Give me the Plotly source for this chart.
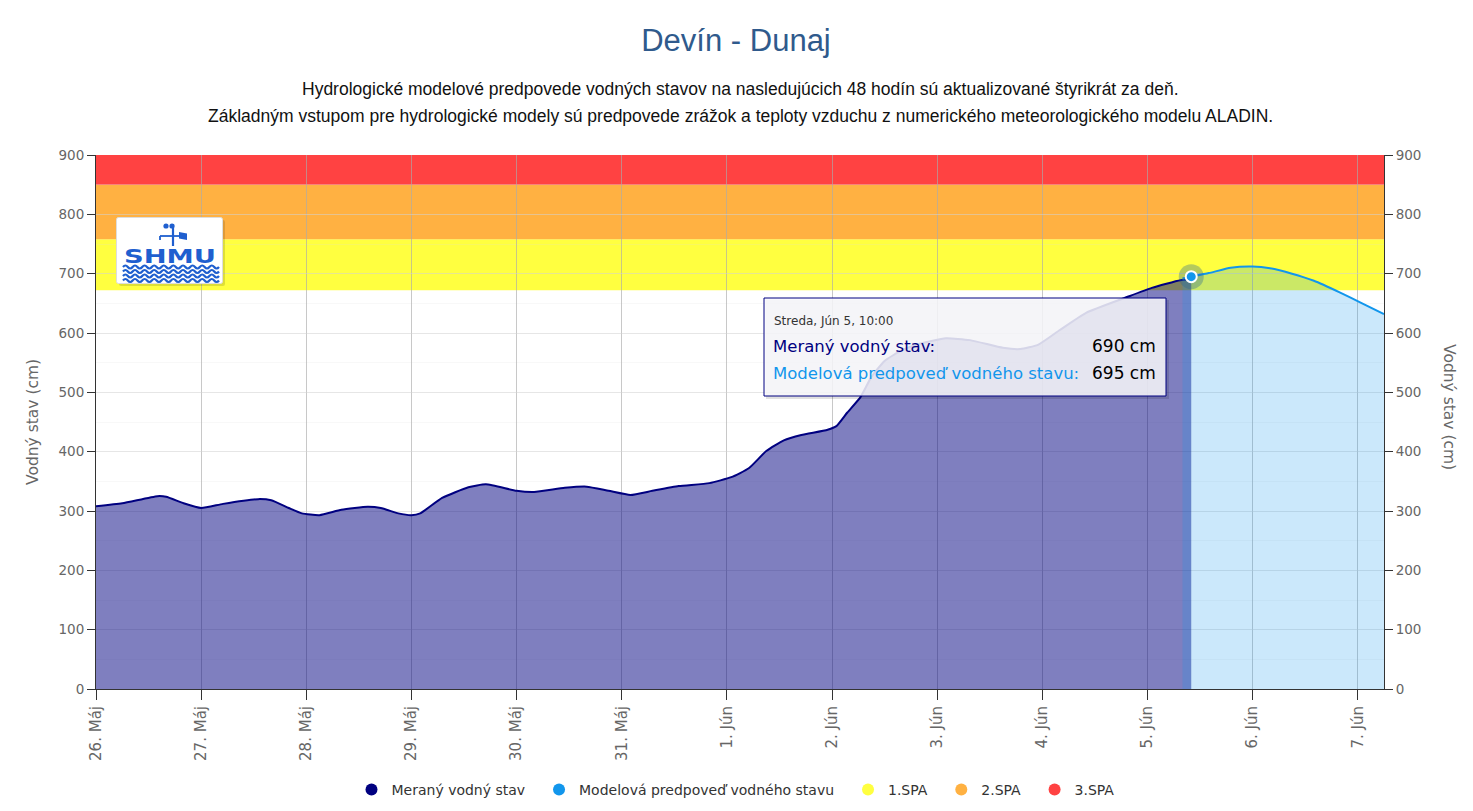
import base64

import plotly.graph_objects as go


# measured water level (cm)
measured_time = [
    "2024-05-26 00:00", "2024-05-26 06:00", "2024-05-26 14:00", "2024-05-26 16:00",
    "2024-05-26 20:00", "2024-05-27 00:00", "2024-05-27 05:00", "2024-05-27 13:00",
    "2024-05-27 16:00", "2024-05-27 20:00", "2024-05-27 23:00", "2024-05-28 03:00",
    "2024-05-28 08:00", "2024-05-28 14:00", "2024-05-28 17:00", "2024-05-28 21:00",
    "2024-05-29 00:00", "2024-05-29 02:00", "2024-05-29 07:00", "2024-05-29 13:00",
    "2024-05-29 17:00", "2024-05-30 00:00", "2024-05-30 04:00", "2024-05-30 11:00",
    "2024-05-30 16:00", "2024-05-30 21:00", "2024-05-31 02:00", "2024-05-31 07:00",
    "2024-05-31 13:00", "2024-05-31 20:00", "2024-06-01 01:00", "2024-06-01 05:00",
    "2024-06-01 09:00", "2024-06-01 13:00", "2024-06-01 17:00", "2024-06-01 23:00",
    "2024-06-02 01:00", "2024-06-02 03:30", "2024-06-02 06:30", "2024-06-02 09:00",
    "2024-06-02 12:00", "2024-06-02 16:00", "2024-06-02 20:00", "2024-06-03 02:00",
    "2024-06-03 07:30", "2024-06-03 15:00", "2024-06-03 19:00", "2024-06-03 23:00",
    "2024-06-04 04:00", "2024-06-04 10:00", "2024-06-04 19:30", "2024-06-05 01:00",
    "2024-06-05 07:30", "2024-06-05 10:00",
]
measured_cm = [
    308, 313, 325, 324,
    313, 305, 312, 320,
    318, 305, 296, 293,
    302, 307, 305, 296,
    293, 296, 322, 340,
    345, 334, 332, 339,
    341, 334, 327, 334,
    342, 347, 357, 372,
    401, 419, 428, 437,
    443, 466, 492, 526,
    553, 571, 582, 591,
    588, 575, 573, 580,
    605, 634, 661, 676,
    689, 690,
]

# model forecast (cm)
forecast_time = [
    "2024-06-05 08:00", "2024-06-05 10:00", "2024-06-05 14:00", "2024-06-05 19:00",
    "2024-06-06 00:00", "2024-06-06 04:00", "2024-06-06 09:00", "2024-06-06 14:00",
    "2024-06-06 20:00", "2024-06-07 01:00", "2024-06-07 06:00",
]
forecast_cm = [692, 695, 701, 710, 712, 709, 700, 688, 668, 650, 632]

day_ticks = [
    "2024-05-26", "2024-05-27", "2024-05-28", "2024-05-29", "2024-05-30",
    "2024-05-31", "2024-06-01", "2024-06-02", "2024-06-03", "2024-06-04",
    "2024-06-05", "2024-06-06", "2024-06-07",
]
day_labels = [
    "26. Máj", "27. Máj", "28. Máj", "29. Máj", "30. Máj", "31. Máj",
    "1. Jún", "2. Jún", "3. Jún", "4. Jún", "5. Jún", "6. Jún", "7. Jún",
]

spa_names = ["1.SPA", "2.SPA", "3.SPA"]
spa_from = [672, 758, 850]
spa_to = [758, 850, 900]
spa_colors = ["#ffff40", "#ffb142", "#ff4242"]

hover_time = "2024-06-05 10:00"
hover_label = "Streda, Jún 5, 10:00"
hover_measured = 690
hover_forecast = 695

x_range = ["2024-05-26 00:00", "2024-06-07 06:00"]
y_range = [0, 900]

NAVY = "#000080"
BLUE = "#1296ec"
FONT = "DejaVu Sans"

# page is drawn with an 8px body margin; plot area in page pixels
OFF = 8
W, H = 1473 - OFF, 811 - OFF
L, R, T, B = 96, 1384, 155, 689


def px_x(px):
    return (px - L) / (R - L)


def px_y(py):
    return (B - py) / (B - T)


def logo_source():
    c = "#1f5fcf"
    waves = ""
    for y in [50, 54.5, 59, 63.5]:
        d = f"M7 {y}"
        for _ in range(10):
            d += " q2.4 -3 4.8 0 q2.4 3 4.8 0"
        waves += f"<path d='{d}' fill='none' stroke='{c}' stroke-width='2.2'/>"
    svg = (
        "<svg xmlns='http://www.w3.org/2000/svg' width='110' height='70' viewBox='0 0 110 70'>"
        "<rect x='3' y='3' width='106' height='66' rx='2' fill='rgba(0,0,0,0.13)'/>"
        "<rect x='0.5' y='0.5' width='106' height='66' rx='2' fill='white' stroke='#dddddd'/>"
        f"<circle cx='50' cy='9' r='2.6' fill='{c}'/><circle cx='56' cy='9' r='2.6' fill='{c}'/>"
        f"<line x1='57' y1='7' x2='57' y2='29' stroke='{c}' stroke-width='2.2'/>"
        f"<line x1='44' y1='19' x2='66' y2='19' stroke='{c}' stroke-width='1.8'/>"
        f"<path d='M63 15 L71 16.5 L71 23 L63 21.5 Z' fill='{c}'/>"
        f"<line x1='44' y1='19' x2='44' y2='23' stroke='{c}' stroke-width='1.8'/>"
        "<text x='54' y='46' text-anchor='middle' font-family='DejaVu Sans' font-weight='bold' "
        f"font-size='19' fill='{c}' textLength='92' lengthAdjust='spacingAndGlyphs'>SHMU</text>"
        f"{waves}</svg>"
    )
    return "data:image/svg+xml;base64," + base64.b64encode(svg.encode()).decode()


fig = go.Figure()

fig.add_trace(
    go.Scatter(
        x=measured_time,
        y=measured_cm,
        mode="lines",
        name="Meraný vodný stav",
        line=dict(color=NAVY, width=2, shape="spline", smoothing=0.5),
        fill="tozeroy",
        fillcolor="rgba(0,0,128,0.5)",
        showlegend=False,
    )
)

fig.add_trace(
    go.Scatter(
        x=forecast_time,
        y=forecast_cm,
        mode="lines",
        name="Modelová predpoveď vodného stavu",
        line=dict(color=BLUE, width=2, shape="spline", smoothing=0.5),
        fill="tozeroy",
        fillcolor="rgba(18,150,236,0.22)",
        showlegend=False,
        yaxis="y2",
    )
)

# hovered point with halo
hx = [hover_time]
hy = [forecast_cm[forecast_time.index(hover_time)]]
fig.add_trace(
    go.Scatter(
        x=hx, y=hy, mode="markers", showlegend=False, yaxis="y2",
        marker=dict(size=25, color="rgba(40,100,150,0.35)", line=dict(width=0)),
    )
)
fig.add_trace(
    go.Scatter(
        x=hx, y=hy, mode="markers", showlegend=False, yaxis="y2",
        marker=dict(size=11, color=BLUE, line=dict(width=2, color="white")),
    )
)

# legend entries (trailing non-breaking spaces widen the gaps between items)
legend_items = [("Meraný vodný stav", NAVY), ("Modelová predpoveď vodného stavu", BLUE)]
legend_items += list(zip(spa_names, spa_colors))
for name, color in legend_items:
    fig.add_trace(
        go.Scatter(
            x=[None], y=[None], mode="markers", name=name + "\u00a0\u00a0", yaxis="y2",
            marker=dict(size=15, color=color, symbol="circle"),
        )
    )

# SPA bands
for lo, hi, color in zip(spa_from, spa_to, spa_colors):
    fig.add_shape(
        type="rect", xref="paper", yref="y", x0=0, x1=1, y0=lo, y1=hi,
        fillcolor=color, line_width=0, layer="below",
    )

# logo (box drawn inside the svg)
fig.add_layout_image(
    source=logo_source(), xref="paper", yref="paper",
    x=px_x(116), y=px_y(217), sizex=px_x(226) - px_x(116), sizey=px_y(217) - px_y(287),
    xanchor="left", yanchor="top", sizing="stretch", layer="above",
)

# tooltip
fig.add_shape(
    type="rect", xref="paper", yref="paper",
    x0=px_x(766), x1=px_x(1169), y0=px_y(399), y1=px_y(300),
    fillcolor="rgba(0,0,0,0.12)", line_width=0, layer="above",
)
fig.add_shape(
    type="rect", xref="paper", yref="paper",
    x0=px_x(764), x1=px_x(1166), y0=px_y(396), y1=px_y(298),
    fillcolor="rgba(248,248,252,0.86)", line=dict(color=NAVY, width=1), layer="above",
)

annotations = [
    dict(text=hover_label, x=px_x(772), y=px_y(321), xanchor="left",
         font=dict(family=FONT, size=12, color="#333333")),
    dict(text="Meraný vodný stav:", x=px_x(771), y=px_y(346), xanchor="left",
         font=dict(family=FONT, size=16.5, color=NAVY)),
    dict(text=f"{hover_measured} cm", x=px_x(1158), y=px_y(346), xanchor="right",
         font=dict(family=FONT, size=17, color="#000000")),
    dict(text="Modelová predpoveď vodného stavu:", x=px_x(771), y=px_y(373), xanchor="left",
         font=dict(family=FONT, size=16.5, color=BLUE)),
    dict(text=f"{hover_forecast} cm", x=px_x(1158), y=px_y(373), xanchor="right",
         font=dict(family=FONT, size=17, color="#000000")),
    # subtitle
    dict(text="Hydrologické modelové predpovede vodných stavov na nasledujúcich 48 hodín sú aktualizované štyrikrát za deň.",
         x=0.5, y=px_y(89), xanchor="center",
         font=dict(family="Liberation Sans", size=17.5, color="#111111")),
    dict(text="Základným vstupom pre hydrologické modely sú predpovede zrážok a teploty vzduchu z numerického meteorologického modelu ALADIN.",
         x=0.5, y=px_y(116), xanchor="center",
         font=dict(family="Liberation Sans", size=17.5, color="#111111")),
    # axis titles
    dict(text="Vodný stav (cm)", x=px_x(33), y=px_y(422), textangle=-90, xanchor="center",
         font=dict(family=FONT, size=15.5, color="#666666")),
    dict(text="Vodný stav (cm)", x=px_x(1449), y=px_y(407), textangle=90, xanchor="center",
         font=dict(family=FONT, size=15.5, color="#666666")),
]
for a in annotations:
    a.update(xref="paper", yref="paper", showarrow=False, yanchor="middle")
fig.update_layout(annotations=annotations)

y_common = dict(
    range=y_range,
    dtick=100,
    tick0=0,
    ticks="outside",
    ticklen=8,
    tickcolor="#333333",
    showline=True,
    linecolor="#333333",
    tickfont=dict(family=FONT, size=13.5, color="#666666"),
    zeroline=False,
    fixedrange=True,
)

fig.update_layout(
    width=W,
    height=H,
    margin=dict(l=L - OFF, r=1473 - R, t=T - OFF, b=811 - B),
    paper_bgcolor="white",
    plot_bgcolor="white",
    hovermode=False,
    title=dict(
        text="Devín - Dunaj",
        x=(736 - OFF) / W, xref="container", xanchor="center",
        y=1 - (40 - OFF) / H, yref="container", yanchor="middle",
        font=dict(family="Liberation Sans", size=31, color="#2f5a8c"),
    ),
    xaxis=dict(
        type="date",
        range=x_range,
        tickvals=day_ticks,
        ticktext=day_labels,
        tickangle=-90,
        ticks="outside",
        ticklen=10,
        tickcolor="#333333",
        showline=True,
        linecolor="#333333",
        showgrid=True,
        gridcolor="rgba(170,170,170,0.65)",
        zeroline=False,
        tickfont=dict(family=FONT, size=15, color="#666666"),
    ),
    yaxis=dict(
        **y_common,
        showgrid=True,
        gridcolor="rgba(210,210,210,0.55)",
        minor=dict(dtick=50, showgrid=True, gridcolor="rgba(220,220,220,0.2)"),
    ),
    yaxis2=dict(**y_common, overlaying="y", side="right", showgrid=False),
    legend=dict(
        orientation="h",
        x=(740 - OFF) / W, xref="container", xanchor="center",
        y=1 - (790 - OFF) / H, yref="container", yanchor="middle",
        font=dict(family=FONT, size=14, color="#333333"),
        itemsizing="constant",
    ),
)

fig.write_html("out.html", config={"displayModeBar": False})
